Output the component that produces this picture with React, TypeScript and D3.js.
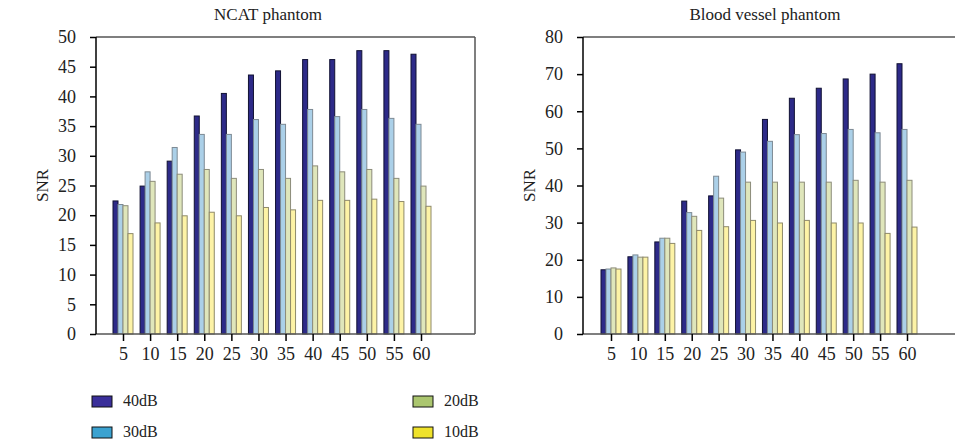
import React, { useEffect, useRef } from "react";
import * as d3 from "d3";

const steps = ["5", "10", "15", "20", "25", "30", "35", "40", "45", "50", "55", "60"];
const seriesNames = ["40dB", "30dB", "20dB", "10dB"];

const ncat40 = [22.4, 24.9, 29.1, 36.7, 40.5, 43.6, 44.3, 46.2, 46.2, 47.7, 47.7, 47.1];
const ncat30 = [21.8, 27.3, 31.4, 33.6, 33.6, 36.1, 35.3, 37.8, 36.6, 37.8, 36.3, 35.3];
const ncat20 = [21.6, 25.7, 26.9, 27.7, 26.2, 27.7, 26.2, 28.3, 27.3, 27.7, 26.2, 24.9];
const ncat10 = [16.9, 18.7, 19.9, 20.5, 19.9, 21.3, 20.9, 22.5, 22.5, 22.7, 22.3, 21.5];

const vessel40 = [17.3, 20.8, 24.8, 35.8, 37.2, 49.6, 57.8, 63.5, 66.2, 68.7, 70.0, 72.8];
const vessel30 = [17.5, 21.3, 25.8, 32.7, 42.5, 49.0, 51.9, 53.7, 54.0, 55.1, 54.2, 55.1];
const vessel20 = [17.8, 20.7, 25.8, 31.7, 36.6, 40.9, 40.9, 40.9, 40.9, 41.4, 40.9, 41.4];
const vessel10 = [17.5, 20.7, 24.4, 27.9, 28.9, 30.6, 29.9, 30.6, 29.9, 29.9, 27.1, 28.8];

const yTicksNcat = [0, 5, 10, 15, 20, 25, 30, 35, 40, 45, 50];
const yTicksVessel = [0, 10, 20, 30, 40, 50, 60, 70, 80];

const barFill = ["#2d2a88", "#abd0e8", "#dfe6bb", "#fdf3a6"];
const barStroke = ["#111133", "#7d8a94", "#8c8c7a", "#8f8a6a"];
const legendFill = ["#3a2f9a", "#3ba2d0", "#abc66f", "#efe22b"];

const FONT = "'Liberation Serif', 'DejaVu Serif', serif";

const drawPanel = (root, opts) => {
  const { left, right, top, bottom, firstX, lastX, yMax, yTicks, title, titleX, series, boxRight } = opts;
  const g = root.append("g");

  const x = d3.scalePoint().domain(steps).range([firstX, lastX]);
  const y = d3.scaleLinear().domain([0, yMax]).range([bottom, top]);
  const bw = 5;
  const xs = d3.scaleBand().domain(seriesNames).range([-bw * 2, bw * 2]);

  // bars
  series.forEach((vals, si) => {
    g.append("g")
      .selectAll("rect")
      .data(vals)
      .join("rect")
      .attr("x", (d, i) => x(steps[i]) + xs(seriesNames[si]))
      .attr("y", (d) => y(d))
      .attr("width", xs.bandwidth())
      .attr("height", (d) => y(0) - y(d))
      .attr("fill", barFill[si])
      .attr("stroke", barStroke[si])
      .attr("stroke-width", 1);
  });

  // frame lines
  g.append("line")
    .attr("x1", left).attr("x2", right)
    .attr("y1", top).attr("y2", top)
    .attr("stroke", "#555").attr("stroke-width", 1.5);
  if (boxRight) {
    g.append("line")
      .attr("x1", right).attr("x2", right)
      .attr("y1", top).attr("y2", bottom)
      .attr("stroke", "#555").attr("stroke-width", 1.5);
  }

  const xAxis = g.append("g").attr("transform", `translate(0, ${bottom})`);
  xAxis.call(d3.axisBottom(x).tickSize(7).tickPadding(6));
  xAxis.select(".domain").attr("d", `M${left},0H${right}`).attr("stroke", "#555").attr("stroke-width", 1.5);
  xAxis.selectAll(".tick line").attr("stroke", "#000").attr("stroke-width", 1.5);
  xAxis.selectAll("text").attr("font-family", FONT).attr("font-size", 18).attr("fill", "#222");

  const yAxis = g.append("g").attr("transform", `translate(${left}, 0)`);
  yAxis.call(d3.axisLeft(y).tickValues(yTicks).tickSize(6).tickPadding(14));
  yAxis.select(".domain").attr("d", `M0,${bottom}V${top}`).attr("stroke", "#000").attr("stroke-width", 1.5);
  yAxis.selectAll(".tick line").attr("stroke", "#000").attr("stroke-width", 1.5);
  yAxis.selectAll("text").attr("font-family", FONT).attr("font-size", 18).attr("fill", "#222");

  g.append("text")
    .attr("x", titleX)
    .attr("y", 20)
    .attr("text-anchor", "middle")
    .attr("font-family", FONT)
    .attr("font-size", 17)
    .attr("fill", "#222")
    .text(title);

  g.append("text")
    .attr("transform", `translate(${left - 48}, ${(top + bottom) / 2}) rotate(-90)`)
    .attr("text-anchor", "middle")
    .attr("font-family", FONT)
    .attr("font-size", 17)
    .attr("fill", "#222")
    .text("SNR");
};

const App = () => {
  const svg = useRef(null);

  useEffect(() => {
    const root = d3.select(svg.current);
    root.selectAll("*").remove();

    drawPanel(root, {
      left: 96, right: 475, top: 37, bottom: 334,
      firstX: 123, lastX: 421, yMax: 50, yTicks: yTicksNcat,
      title: "NCAT phantom", titleX: 268, boxRight: true,
      series: [ncat40, ncat30, ncat20, ncat10],
    });
    drawPanel(root, {
      left: 583, right: 960, top: 37, bottom: 334,
      firstX: 611, lastX: 907, yMax: 80, yTicks: yTicksVessel,
      title: "Blood vessel phantom", titleX: 765, boxRight: false,
      series: [vessel40, vessel30, vessel20, vessel10],
    });

    // legend
    const legendPos = [
      [92, 396], [92, 427], [413, 396], [413, 427],
    ];
    const legend = root.append("g");
    seriesNames.forEach((name, i) => {
      const [lx, ly] = legendPos[i];
      legend.append("rect")
        .attr("x", lx).attr("y", ly)
        .attr("width", 20).attr("height", 11)
        .attr("fill", legendFill[i])
        .attr("stroke", "#111").attr("stroke-width", 1);
      legend.append("text")
        .attr("x", lx + 31).attr("y", ly + 10)
        .attr("font-family", FONT)
        .attr("font-size", 16)
        .attr("fill", "#222")
        .text(name);
    });
  }, []);

  return (
    <svg
      ref={svg}
      width={955}
      height={440}
      style={{ position: "absolute", left: 0, top: 0, background: "#fff" }}
    />
  );
};

export default App;
